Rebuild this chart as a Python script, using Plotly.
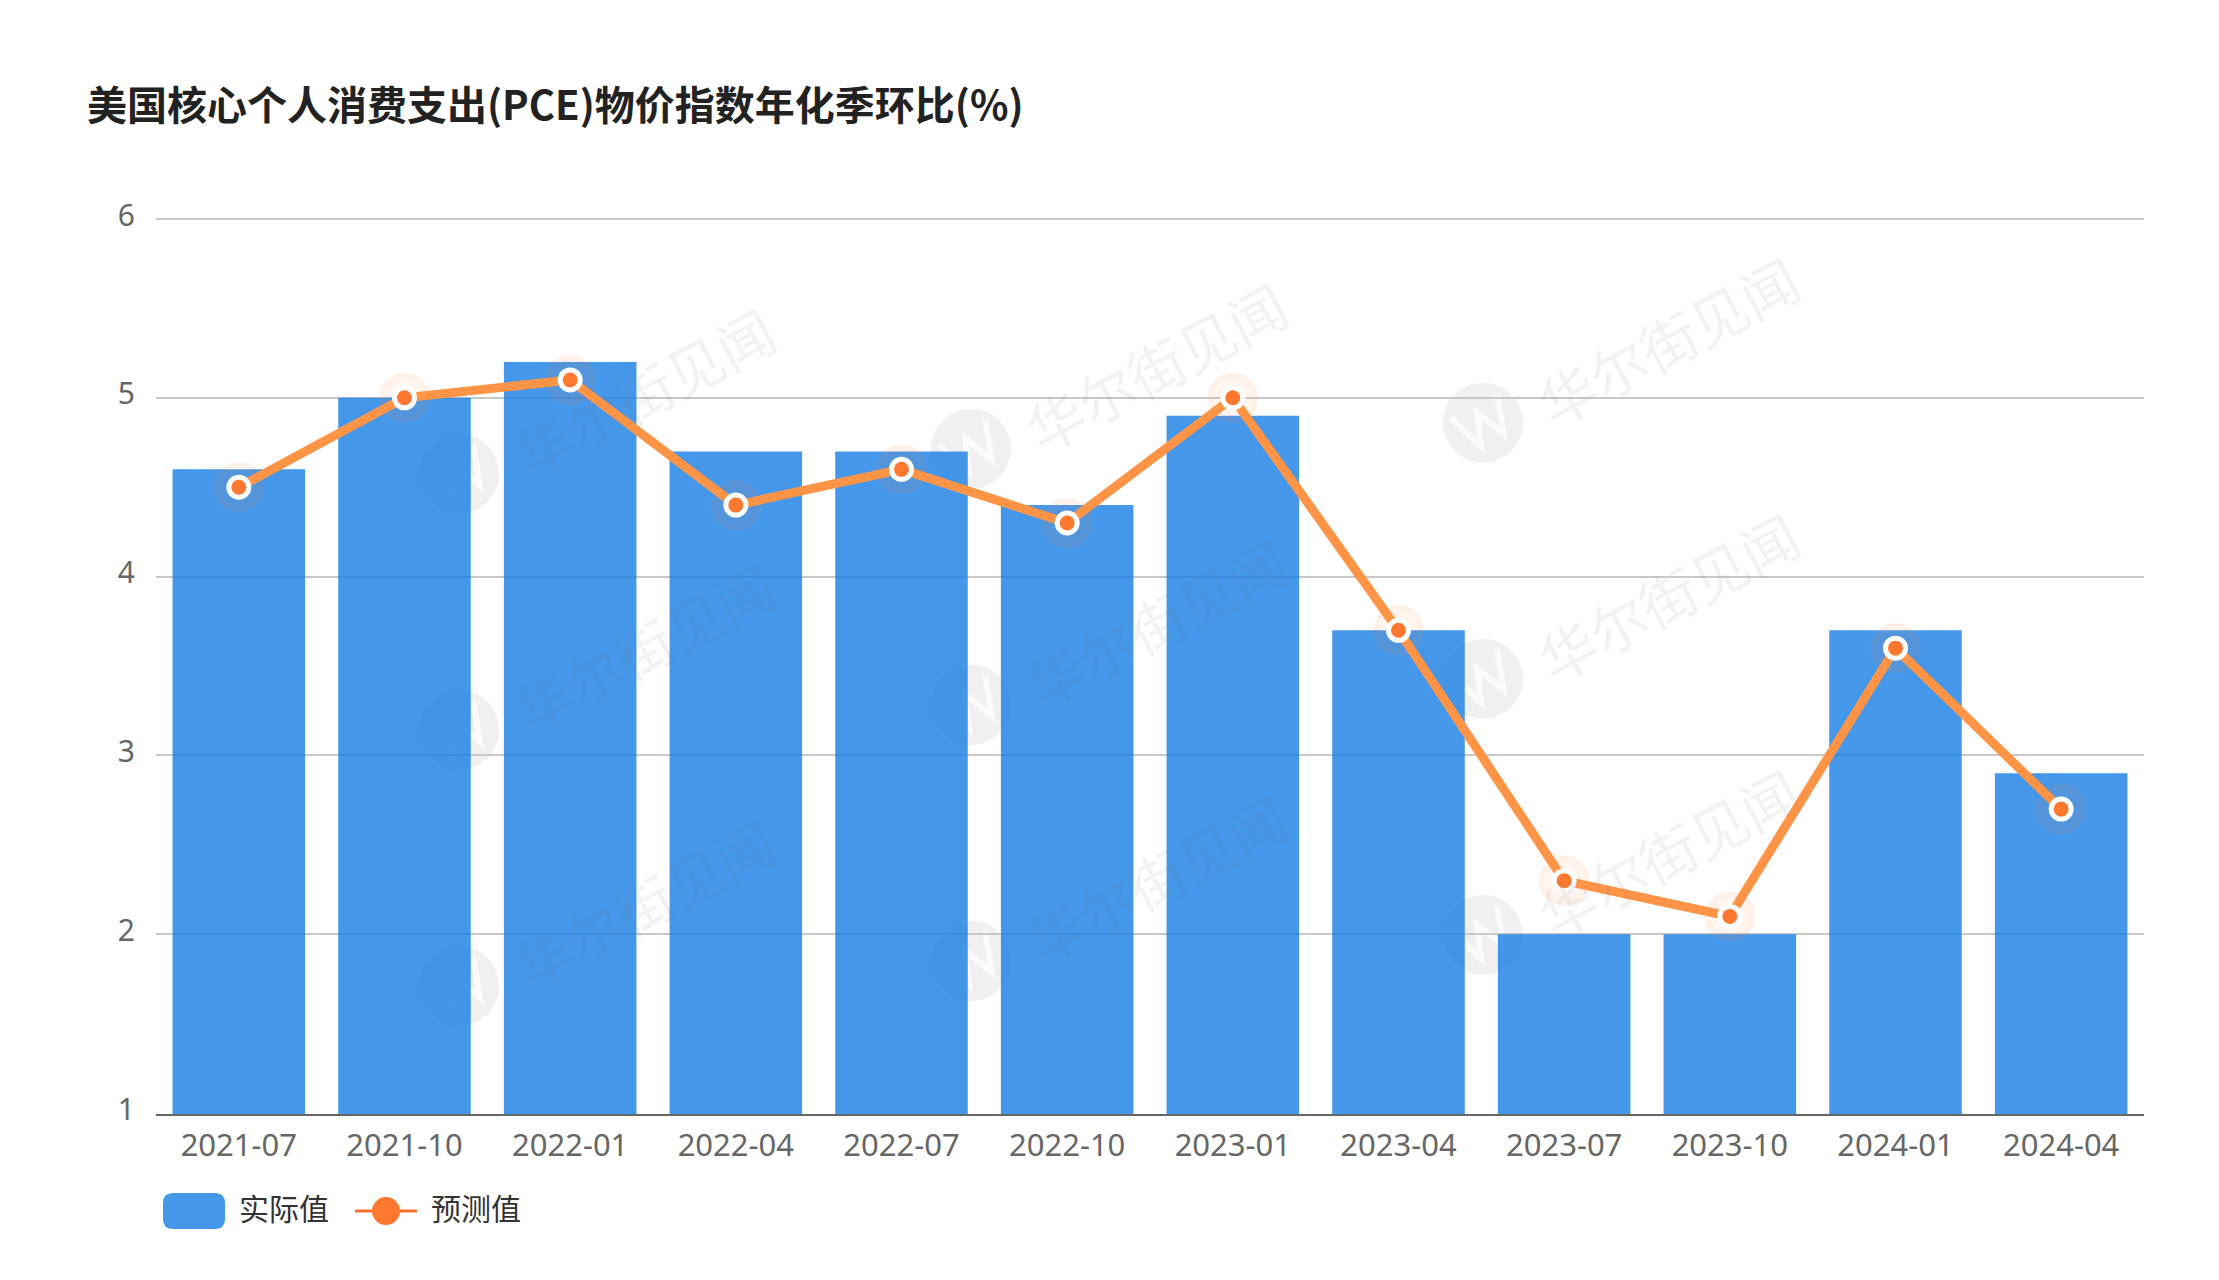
import math

import plotly.graph_objects as go

WIDTH, HEIGHT = 2219, 1280
LEFT, RIGHT, TOP, BOTTOM = 156, 2144, 219.3, 1114

# Chart data
months = ['2021-07', '2021-10', '2022-01', '2022-04', '2022-07', '2022-10',
          '2023-01', '2023-04', '2023-07', '2023-10', '2024-01', '2024-04']
actual = [4.6, 5.0, 5.2, 4.7, 4.7, 4.4, 4.9, 3.7, 2.0, 2.0, 3.7, 2.9]
forecast = [4.5, 5.0, 5.1, 4.4, 4.6, 4.3, 5.0, 3.7, 2.3, 2.1, 3.6, 2.7]
y_ticks = [1, 2, 3, 4, 5, 6]

title_text = '美国核心个人消费支出(PCE)物价指数年化季环比(%)'
legend_names = ['实际值', '预测值']
watermark_text = '华尔街见闻'

CJK_FONT = 'Noto Sans CJK SC'
BAR_COLOR = 'rgba(22,125,229,0.8)'
BAR_SOLID = '#4597ea'
LINE_COLOR = '#ff9447'
MARKER_COLOR = '#ff7830'
GRID_COLOR = '#c8c8c8'


def px_x(x):
    """Page pixel to paper x."""
    return (x - LEFT) / (RIGHT - LEFT)


def px_y(y):
    """Page pixel to paper y."""
    return (BOTTOM - y) / (BOTTOM - TOP)


def logo_path(cx, cy, angle=-28):
    """Rotated W for the watermark logo, as a shape so it stays under the bars."""
    a = math.radians(angle)
    pts = [(-26, -19), (-13, 20), (0, -12), (13, 20), (26, -19)]
    out = []
    for dx, dy in pts:
        x = cx + dx * math.cos(a) - dy * math.sin(a)
        y = cy + dx * math.sin(a) + dy * math.cos(a)
        out.append(f'{px_x(x)},{px_y(y)}')
    return 'M' + ' L'.join(out)


fig = go.Figure()

fig.add_trace(go.Bar(
    x=months, y=actual, name=legend_names[0],
    marker=dict(color=BAR_COLOR, line=dict(width=0)),
    showlegend=False,
))

# Soft glow behind the points
fig.add_trace(go.Scatter(
    x=months, y=forecast, mode='markers', hoverinfo='skip', showlegend=False,
    marker=dict(size=50, color='rgba(255,120,48,0.12)', line=dict(width=0),
                gradient=dict(type='radial', color='rgba(255,120,48,0)')),
))

fig.add_trace(go.Scatter(
    x=months, y=forecast, name=legend_names[1], mode='lines+markers',
    line=dict(color=LINE_COLOR, width=9),
    marker=dict(size=20, color=MARKER_COLOR, line=dict(color='white', width=5)),
    showlegend=False,
))

# The grid line at the top of the range gets clipped by plotly
shapes = [dict(type='line', layer='below', xref='paper', yref='paper',
               x0=0, x1=1, y0=1, y1=1,
               line=dict(color=GRID_COLOR, width=2))]
annotations = []

# Repeating watermark
for cx, first_y in [(459, 474), (971, 449), (1483, 423)]:
    for row in range(3):
        cy = first_y + row * 256
        shapes.append(dict(
            type='circle', layer='below', xref='paper', yref='paper',
            x0=px_x(cx - 40), x1=px_x(cx + 40),
            y0=px_y(cy + 40), y1=px_y(cy - 40),
            fillcolor='#f0f0f0', line=dict(width=0),
        ))
        shapes.append(dict(
            type='path', layer='below', xref='paper', yref='paper',
            path=logo_path(cx, cy), line=dict(color='#fbfbfb', width=6),
        ))
        annotations.append(dict(
            text=watermark_text, xref='paper', yref='paper',
            x=px_x(cx + 184), y=px_y(cy - 83), xanchor='center', yanchor='middle',
            showarrow=False, textangle=-28,
            font=dict(family=CJK_FONT, size=57, color='rgba(130,130,130,0.10)'),
        ))

# Hand drawn legend, plotly's swatches can't be this wide
sx0, sx1, sy0, sy1, r = 163, 225, 1193, 1229, 10
swatch = (f'M{px_x(sx0 + r)},{px_y(sy0)} L{px_x(sx1 - r)},{px_y(sy0)} '
          f'Q{px_x(sx1)},{px_y(sy0)} {px_x(sx1)},{px_y(sy0 + r)} '
          f'L{px_x(sx1)},{px_y(sy1 - r)} Q{px_x(sx1)},{px_y(sy1)} {px_x(sx1 - r)},{px_y(sy1)} '
          f'L{px_x(sx0 + r)},{px_y(sy1)} Q{px_x(sx0)},{px_y(sy1)} {px_x(sx0)},{px_y(sy1 - r)} '
          f'L{px_x(sx0)},{px_y(sy0 + r)} Q{px_x(sx0)},{px_y(sy0)} {px_x(sx0 + r)},{px_y(sy0)} Z')
shapes.append(dict(type='path', path=swatch, xref='paper', yref='paper',
                   fillcolor=BAR_SOLID, line=dict(width=0)))
shapes.append(dict(type='line', xref='paper', yref='paper',
                   x0=px_x(355), x1=px_x(417), y0=px_y(1211), y1=px_y(1211),
                   line=dict(color='#f07030', width=3)))
shapes.append(dict(type='circle', xref='paper', yref='paper',
                   x0=px_x(372), x1=px_x(400), y0=px_y(1225), y1=px_y(1197),
                   fillcolor=MARKER_COLOR, line=dict(width=0)))
for name, x in zip(legend_names, [237, 429]):
    annotations.append(dict(
        text=name, xref='paper', yref='paper', x=px_x(x), y=px_y(1207),
        xanchor='left', yanchor='middle', showarrow=False,
        font=dict(family=CJK_FONT, size=30, color='#333333'),
    ))

fig.update_layout(
    width=WIDTH, height=HEIGHT,
    margin=dict(l=LEFT, r=WIDTH - RIGHT, t=TOP, b=HEIGHT - BOTTOM, pad=0),
    paper_bgcolor='white', plot_bgcolor='white',
    bargap=0.2,
    showlegend=False,
    title=dict(
        text=f'<b>{title_text}</b>', xref='container', yref='container',
        x=87 / WIDTH, xanchor='left', y=1 - 106 / HEIGHT, yanchor='middle',
        font=dict(family=CJK_FONT, size=40, color='#222222'),
    ),
    xaxis=dict(
        type='category', range=[-0.5, 11.5], showgrid=False, ticks='', showline=True,
        linecolor='#666666', linewidth=2, zeroline=False,
        tickfont=dict(family='Noto Sans', size=31, color='#666666'),
        ticklabelstandoff=3,
    ),
    yaxis=dict(
        # the axis line sits about 2px under the value 1 in the original
        range=[0.995, 6], tickvals=y_ticks, showgrid=True, gridcolor=GRID_COLOR, gridwidth=2,
        zeroline=False, showline=False, ticks='',
        tickfont=dict(family='Noto Sans', size=30, color='#666666'),
        ticklabelstandoff=20, ticklabelshift=-4,
    ),
    shapes=shapes,
    annotations=annotations,
)

fig.write_html('out.html', config={'displayModeBar': False},
               post_script="document.body.style.margin='0';")
